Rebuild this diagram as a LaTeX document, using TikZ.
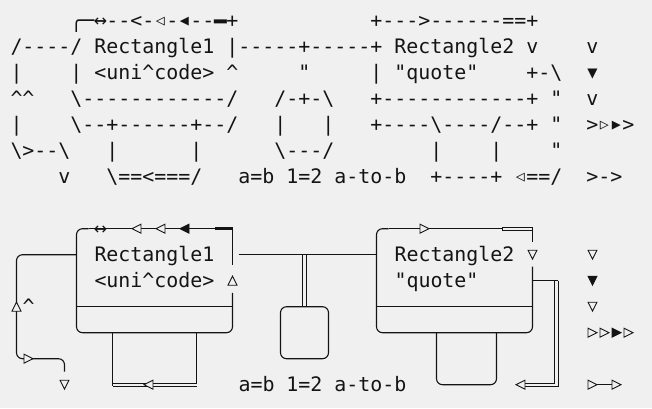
\documentclass[tikz,border=0pt]{standalone}
\usepackage{fontspec}
\usepackage{graphicx}
\setmonofont{DejaVu Sans Mono}
\definecolor{bg}{HTML}{F0F0F0}
\definecolor{ink}{HTML}{141414}
\newcommand\BSL{\textbackslash}
\newcommand\CRT{\textasciicircum}
\newcommand\sym[1]{\makebox[12pt][c]{\fontsize{15pt}{15pt}\selectfont\raisebox{1.5pt}{#1}}}
\newcommand\bsym[1]{\makebox[12pt][c]{\fontsize{17pt}{17pt}\selectfont\raisebox{1pt}{#1}}}
\newcommand\lrarr{\makebox[12pt][c]{\fontsize{22pt}{22pt}\selectfont ↔}}
\newcommand\thickbar{\makebox[12pt][c]{\raisebox{1.8pt}{\scalebox{1.1}[0.7]{▬}}}}
\tikzset{
  every node/.style={inner sep=0pt, outer sep=0pt, text=ink,
    font=\ttfamily\fontsize{19.93pt}{26pt}\selectfont},
  txt/.style={anchor=base west},
  ln/.style={draw=ink, line width=1.1pt},
  dbl/.style={draw=ink, line width=1pt, double=bg, double distance=2.2pt},
  tri/.pic={\path[x=1pt,y=1pt,draw=ink,fill=#1,line width=0.9pt,line join=miter]
     (4.5,0) -- (-4.5,4.5) -- (-4.5,-4.5) -- cycle;}
}
\begin{document}
\begin{tikzpicture}[x=1pt,y=1pt]
\fill[bg] (0,0) rectangle (652,-408);
\useasboundingbox (0,0) rectangle (652,-408);
\begin{scope}[shift={(16.5,5.3)}, x=12pt, y=-26pt]
% ---------------- top: source text ----------------
\node[txt] (t1) at (-0.5,1.254) {~~~~~╭─\lrarr--<-\sym{◁}-\sym{◀}--\thickbar+~~~~~~~~~~~+--->------==+};
\node[txt] (t2) at (-0.5,2.254) {/----/~Rectangle1~|-----+-----+~Rectangle2~v~~~~v};
\node[txt] (t3) at (-0.5,3.254) {|~~~~|~<uni\CRT{}code>~\CRT{}~~~~~"~~~~~|~"quote"~~~~+-\BSL{}~~\bsym{▼}};
\node[txt] (t4) at (-0.5,4.254) {\CRT\CRT{}~~~\BSL{}------------/~~~/-+-\BSL{}~~~+------------+~"~~v};
\node[txt] (t5) at (-0.5,5.254) {|~~~~\BSL{}--+------+--/~~~|~~~|~~~+----\BSL{}----/--+~"~~>\sym{▷}\sym{▶}>};
\node[txt] (t6) at (-0.5,6.254) {\BSL{}>--\BSL{}~~~|~~~~~~|~~~~~~\BSL{}---/~~~~~~~~|~~~~|~~~~"};
\node[txt] (t7) at (-0.5,7.254) {~~~~v~~~\BSL{}==<===/~~~a=b~1=2~a-to-b~~+----+~\sym{◁}==/~~>->};
% ---------------- bottom: rendering ----------------
% rectangle 1
\draw[ln, rounded corners=6pt] (18,11.47) -- (18,13) -- (5,13) -- (5,9) -- (6,9);
\draw[ln] (6,9) -- (18,9) -- (18,10.4);
\draw[ln] (5,12) -- (18,12);
\draw[line width=3pt, ink] (16.5,9) -- (18,9);
\node[txt] (r1arrow) at (6.5,9.254) {\lrarr};
\pic[rotate=180] at (10,9) {tri=bg};
\pic[rotate=180] at (12,9) {tri=bg};
\pic[rotate=180] at (14,9) {tri=ink};
\pic[rotate=90] at (18,11) {tri=bg};
\node[txt] (r1a) at (6.5,10.254) {Rectangle1};
\node[txt] (r1b) at (6.5,11.254) {<uni\CRT{}code>};
% left connector
\draw[ln, rounded corners=6pt] (5,10) -- (0,10) -- (0,14) -- (4,14) -- (4,14.5);
\pic[rotate=90] at (0,12) {tri=bg};
\node[txt] (caret) at (0.5,12.254) {\CRT};
\pic at (1,14) {tri=bg};
\pic[rotate=-90] at (4,15) {tri=bg};
% U below rectangle 1
\draw[ln] (8,13) -- (8,15.06);
\draw[ln] (15,13) -- (15,15.06);
\draw[dbl] (8,15) -- (15,15);
\pic[rotate=180] at (11,15) {tri=bg};
% middle link and small box
\draw[dbl] (24,10) -- (24,12);
\draw[ln] (18.5,10) -- (30,10);
\draw[ln, rounded corners=6pt] (22,12) rectangle (26,14);
% rectangle 2
\draw[ln, rounded corners=6pt] (43,10.46) -- (43,13) -- (30,13) -- (30,9) -- (31,9);
\draw[ln] (31,9) -- (40.5,9);
\draw[ln] (43,8.94) -- (43,9.5);
\draw[ln, fill=bg] (40.5,8.94) rectangle (43,9.06);
\draw[ln] (30,12) -- (43,12);
\pic at (34,9) {tri=bg};
\pic[rotate=-90] at (43,10) {tri=bg};
\node[txt] (r2a) at (31.5,10.254) {Rectangle2};
\node[txt] (r2b) at (31.5,11.254) {"quote"};
\draw[ln, rounded corners=6pt] (35,13) -- (35,15) -- (40,15) -- (40,13);
% right double connector
\draw[dbl] (45,11) -- (45,15) -- (42.375,15);
\draw[ln] (43,11) -- (45.13,11);
\pic[rotate=180] at (42,15) {tri=bg};
% right column of arrows
\pic[rotate=-90] at (48,10) {tri=bg};
\pic[rotate=-90] at (48,11) {tri=ink};
\pic[rotate=-90] at (48,12) {tri=bg};
\pic at (48,13) {tri=bg};
\pic at (49,13) {tri=bg};
\pic at (50,13) {tri=ink};
\pic at (51,13) {tri=bg};
\draw[ln] (48,15) -- (50,15);
\pic at (48,15) {tri=bg};
\pic at (50,15) {tri=bg};
% labels
\node[txt] (eqs) at (18.5,15.254) {a=b~1=2~a-to-b};
\end{scope}
\end{tikzpicture}
\end{document}
